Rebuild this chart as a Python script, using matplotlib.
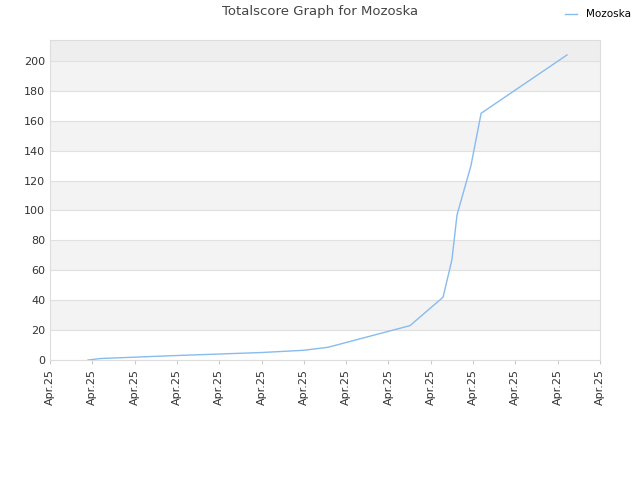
import matplotlib
matplotlib.use("Agg")
import matplotlib.pyplot as plt

tick_labels = ["Apr.25"] * 14
xs = [0.9, 1.2, 2.1, 3.0, 4.0, 5.0, 6.0, 6.57, 8.51, 9.29, 9.5, 9.62, 9.95, 10.19, 12.22]
ys = [0, 1, 2, 3, 4, 5, 6.5, 8.5, 23, 42, 67, 97, 130, 165, 204]

fig = plt.figure(figsize=(6.4, 4.8), dpi=100)
ax = fig.add_axes([50/640, 1-360/480, 550/640, 320/480])
ymax = 214
for i, lo in enumerate(range(0, 220, 20)):
    hi = min(lo + 20, ymax)
    col = "#f3f3f3" if i % 2 == 1 else "white"
    if lo >= 200:
        col = "#eeeeee"
    ax.axhspan(lo, hi, color=col, zorder=0, lw=0)
    ax.axhline(lo, color="#e0e0e0", lw=0.8, zorder=1)
ax.plot(xs, ys, color="#88bbee", lw=1, label="Mozoska", zorder=2)
ax.set_xlim(0, 13)
ax.set_ylim(0, ymax)
ax.set_xticks(range(14))
ax.set_xticklabels(tick_labels, rotation=90, fontsize=8, color="#333333")
ax.set_yticks(range(0, 201, 20))
ax.tick_params(axis="y", labelsize=8, colors="#333333", length=0)
ax.tick_params(axis="x", length=3, color="#cccccc")
for s in ax.spines.values():
    s.set_color("#dddddd")
fig.text(0.5, 1-12/480, "Totalscore Graph for Mozoska", ha="center", va="center", fontsize=9.5, color="#444444")
fig.legend(loc="upper right", bbox_to_anchor=(1.0, 1.0), frameon=False, fontsize=7.5, handlelength=1.2)
fig.savefig("out.png")
